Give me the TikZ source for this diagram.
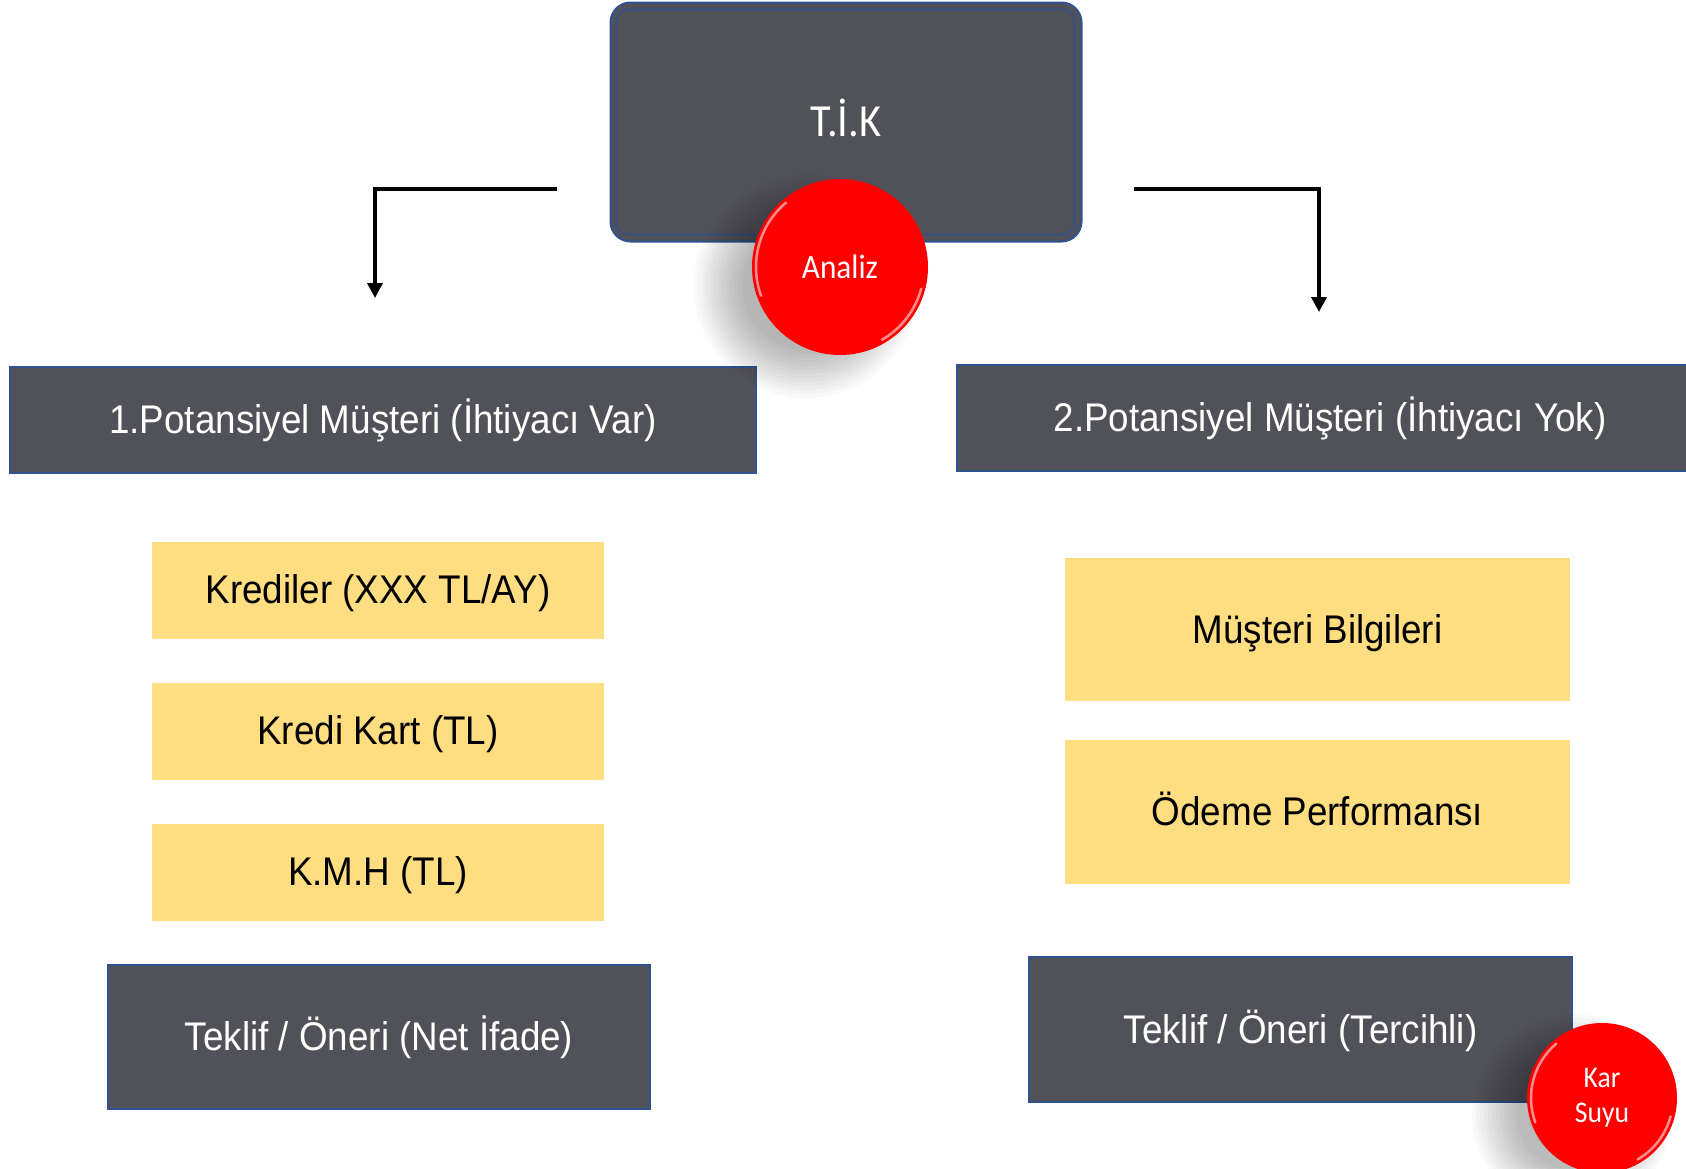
\documentclass[tikz,border=0pt]{standalone}
\usepackage{fontspec}
\usepackage{graphicx}
\setmainfont{Liberation Sans}
\newfontfamily\calfont{Carlito}
\usetikzlibrary{arrows.meta}

\definecolor{slate}{RGB}{81,81,89}
\definecolor{edgeblue}{RGB}{47,82,143}
\definecolor{butter}{RGB}{255,222,130}
\definecolor{btnred}{RGB}{255,0,0}

% slightly condensed lettering
\newcommand{\cond}[1]{\scalebox{0.92}[1]{#1}}

\begin{document}
\begin{tikzpicture}[x=1pt,y=-1pt,
  darkbox/.style={draw=edgeblue, line width=2pt, fill=slate, text=white,
    inner sep=0pt, font=\fontsize{40}{48}\selectfont,
    text height=37pt, text depth=10pt},
  notebox/.style={fill=butter, text=black, inner sep=0pt,
    font=\fontsize{40}{48}\selectfont,
    text height=37pt, text depth=10pt},
  button/.style={circle, fill=btnred, text=white, inner sep=0pt, align=center},
  flow/.style={line width=3.5pt, line join=miter,
    -{Triangle[length=15pt,width=15pt]}},
  gloss/.style={white, opacity=0.55, line width=2.5pt, line cap=round},
]
\clip (0,0) rectangle (1686,1168);
\fill[white] (0,0) rectangle (1686,1168);

% head box
\node[darkbox, rounded corners=20pt, minimum width=471pt, minimum height=239pt,
  font=\calfont\fontsize{46}{54}\selectfont, text height=41pt, text depth=11.5pt]
  (tik) at (846,122) {\cond{T.İ.K}};
\draw[edgeblue, line width=1.5pt, rounded corners=12pt]
  ([xshift=7pt,yshift=-8pt]tik.north west) rectangle ([xshift=-8pt,yshift=8pt]tik.south east);

% branch arrows
\coordinate (l0) at (557,189);
\coordinate (l1) at (375,189);
\coordinate (l2) at (375,298);
\coordinate (r0) at (1134,189);
\coordinate (r1) at (1319,189);
\coordinate (r2) at (1319,312);
\draw[flow] (l0) -- (l1) -- (l2);
\draw[flow] (r0) -- (r1) -- (r2);

% customer groups
\node[darkbox, minimum width=746pt, minimum height=106pt] (need) at (383,420)
  {\cond{1.Potansiyel Müşteri (İhtiyacı Var)}};
\node[darkbox, minimum width=746pt, minimum height=106pt] (noneed) at (1330,418)
  {\cond{2.Potansiyel Müşteri (İhtiyacı Yok)}};

% left column
\node[notebox, minimum width=452pt, minimum height=97pt] (kredi) at (378,590)
  {\cond{Krediler (XXX TL/AY)}};
\node[notebox, minimum width=452pt, minimum height=97pt] (kart) at (378,731)
  {\cond{Kredi Kart (TL)}};
\node[notebox, minimum width=452pt, minimum height=97pt] (kmh) at (378,872)
  {\cond{K.M.H (TL)}};
\node[darkbox, minimum width=542pt, minimum height=144pt] (netoffer) at (379,1037)
  {\cond{Teklif / Öneri (Net İfade)}};

% right column
\node[notebox, minimum width=505pt, minimum height=143pt] (info) at (1317.5,629.5)
  {\cond{Müşteri Bilgileri}};
\node[notebox, minimum width=505pt, minimum height=144pt] (pay) at (1317.5,812)
  {\cond{Ödeme Performansı}};
\node[darkbox, minimum width=543pt, minimum height=145pt] (prefoffer) at (1300.5,1029.5)
  {\cond{Teklif / Öneri (Tercihli)}};

% analysis button with soft shadow
\foreach \r in {64,68,...,112}
  \fill[black, opacity=0.024] (806,286) circle (\r);
\node[button, minimum size=176pt, font=\calfont\fontsize{34}{40}\selectfont]
  (analiz) at (840,267) {\cond{Analiz}};
\draw[gloss] (analiz.center) ++(160:84) arc (160:230:84);
\draw[gloss] (analiz.center) ++(15:84) arc (15:60:84);

% margin button with soft shadow
\foreach \r in {56,60,...,100}
  \fill[black, opacity=0.024] (1572,1114) circle (\r);
\node[button, minimum size=150pt, font=\calfont\fontsize{30}{35}\selectfont]
  (karsuyu) at (1602,1098) {\cond{Kar}\\\cond{Suyu}};
\draw[gloss] (karsuyu.center) ++(160:71) arc (160:230:71);
\draw[gloss] (karsuyu.center) ++(15:71) arc (15:60:71);
\end{tikzpicture}
\end{document}
